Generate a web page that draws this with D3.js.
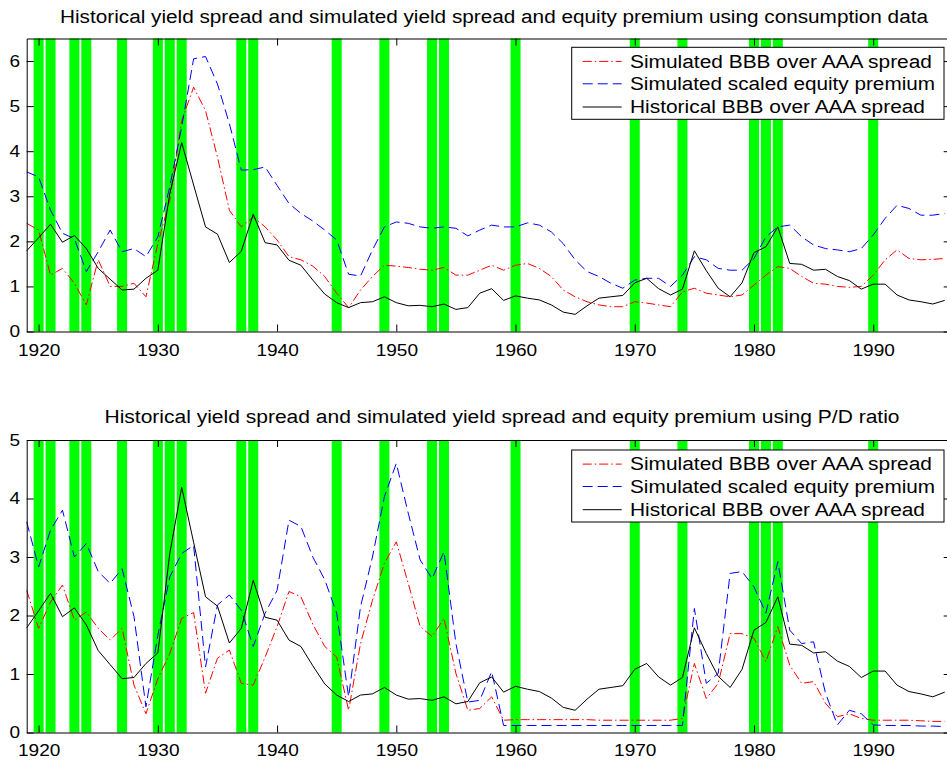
<!DOCTYPE html>
<html lang="en">
<head>
<meta charset="UTF-8">
<title>Yield spread and equity premium</title>
<script src="https://d3js.org/d3.v7.min.js"></script>
<style>
    body { margin: 0; background: #fff; }
    text { font-family: "Liberation Sans", Arial, Helvetica, sans-serif; fill: #000; }
    .axis path, .axis line { stroke: #000; }
</style>
</head>
<body>
<svg id="chart" width="947" height="761"></svg>
<script>
// ---- data ----
var years = d3.range(1919, 1997);

var recessionYears = [1920, 1921, 1923, 1924, 1927, 1930, 1931, 1932, 1937, 1938,
    1945, 1949, 1953, 1954, 1960, 1970, 1974, 1980, 1981, 1982, 1990];

var historicalSpread = [1.79, 2.08, 2.38, 1.98, 2.13, 1.84, 1.40, 1.16, 0.92, 0.94,
    1.18, 1.36, 3.06, 4.19, 3.25, 2.32, 2.16, 1.53, 1.78, 2.60,
    1.97, 1.92, 1.58, 1.47, 1.14, 0.83, 0.64, 0.53, 0.64, 0.66,
    0.77, 0.64, 0.57, 0.58, 0.55, 0.61, 0.49, 0.53, 0.85, 0.95,
    0.69, 0.79, 0.74, 0.70, 0.59, 0.43, 0.38, 0.57, 0.74, 0.77,
    0.80, 1.08, 1.18, 0.95, 0.81, 0.94, 1.79, 1.35, 0.96, 0.77,
    1.08, 1.75, 1.88, 2.32, 1.51, 1.49, 1.36, 1.38, 1.22, 1.13,
    0.94, 1.05, 1.05, 0.81, 0.70, 0.66, 0.61, 0.69];

var consSpread = [2.40, 2.25, 1.25, 1.40, 1.07, 0.59, 1.59, 1.00, 1.00, 1.07,
    0.77, 1.95, 2.91, 4.68, 5.42, 4.90, 3.87, 2.69, 2.32, 2.54,
    2.32, 2.03, 1.66, 1.59, 1.45, 1.22, 0.85, 0.53, 0.92, 1.22,
    1.47, 1.45, 1.42, 1.38, 1.36, 1.42, 1.25, 1.25, 1.36, 1.47,
    1.36, 1.47, 1.51, 1.40, 1.22, 0.92, 0.77, 0.66, 0.59, 0.55,
    0.55, 0.66, 0.63, 0.59, 0.55, 0.88, 0.96, 0.85, 0.81, 0.77,
    0.81, 1.03, 1.25, 1.44, 1.40, 1.22, 1.07, 1.05, 1.00, 0.98,
    1.00, 1.25, 1.59, 1.81, 1.62, 1.59, 1.60, 1.62];

var consEquity = [3.54, 3.43, 2.69, 2.18, 2.06, 1.33, 1.77, 2.25, 1.77, 1.84,
    1.66, 2.10, 3.21, 4.54, 6.05, 6.10, 5.49, 4.61, 3.58, 3.59,
    3.65, 3.24, 2.84, 2.62, 2.45, 2.25, 2.03, 1.27, 1.23, 1.81,
    2.32, 2.43, 2.40, 2.32, 2.29, 2.32, 2.29, 2.12, 2.25, 2.36,
    2.32, 2.32, 2.41, 2.36, 2.21, 1.95, 1.59, 1.33, 1.22, 1.07,
    0.96, 1.14, 1.18, 1.18, 1.00, 1.25, 1.66, 1.59, 1.40, 1.36,
    1.36, 1.62, 2.10, 2.32, 2.36, 2.10, 1.92, 1.84, 1.81, 1.77,
    1.84, 2.14, 2.51, 2.80, 2.73, 2.58, 2.58, 2.62];

var pdSpread = [2.43, 1.78, 2.23, 2.52, 1.92, 2.06, 1.78, 1.58, 1.78, 0.81,
    0.32, 0.92, 1.35, 1.95, 2.05, 0.67, 1.27, 1.41, 0.84, 0.81,
    1.29, 1.81, 2.41, 2.32, 1.85, 1.47, 1.29, 0.38, 1.52, 2.26,
    2.89, 3.26, 2.55, 1.81, 1.64, 1.95, 1.01, 0.38, 0.41, 0.61,
    0.21, 0.22, 0.22, 0.22, 0.22, 0.22, 0.22, 0.22, 0.21, 0.21,
    0.21, 0.21, 0.21, 0.21, 0.21, 0.24, 1.18, 0.58, 0.84, 1.69,
    1.69, 1.61, 1.21, 1.81, 1.15, 0.84, 0.87, 0.50, 0.27, 0.32,
    0.24, 0.21, 0.21, 0.21, 0.21, 0.20, 0.19, 0.19];

var pdEquity = [3.60, 2.83, 3.46, 3.80, 3.00, 3.23, 2.75, 2.55, 2.80, 1.98,
    0.44, 1.66, 2.66, 3.06, 3.20, 1.12, 2.18, 2.35, 2.09, 1.47,
    2.04, 2.43, 3.63, 3.52, 3.00, 2.61, 2.04, 0.61, 2.15, 3.00,
    4.03, 4.60, 3.75, 2.95, 2.63, 3.09, 1.52, 0.52, 0.55, 1.04,
    0.12, 0.12, 0.12, 0.12, 0.12, 0.12, 0.12, 0.12, 0.12, 0.12,
    0.12, 0.12, 0.12, 0.12, 0.12, 0.12, 2.12, 0.84, 1.01, 2.72,
    2.75, 2.49, 2.04, 2.92, 1.75, 1.52, 1.55, 0.67, 0.13, 0.38,
    0.32, 0.13, 0.12, 0.12, 0.12, 0.11, 0.11, 0.10];

var xTickValues = [1920, 1930, 1940, 1950, 1960, 1970, 1980, 1990];
var yTicksTop = [0, 1, 2, 3, 4, 5, 6];
var yTicksBottom = [0, 1, 2, 3, 4, 5];

var titles = [
    "Historical yield spread and simulated yield spread and equity premium using consumption data",
    "Historical yield spread and simulated yield spread and equity premium using P/D ratio"
];
var legendLabels = ["Simulated BBB over AAA spread", "Simulated scaled equity premium", "Historical BBB over AAA spread"];

// ---- drawing ----
var svg = d3.select("#chart");
var stretch = 1.12;   // text in the reference is a bit wider than its height suggests

function widen(sel) {
    sel.each(function () {
        var w = this.getComputedTextLength();
        d3.select(this).attr("textLength", w * stretch).attr("lengthAdjust", "spacingAndGlyphs");
    });
}

var x = d3.scaleLinear().domain([1919, 1996.5]).range([26.7, 950.7]);

function drawPanel(p) {
    var y = d3.scaleLinear().domain([0, p.yMax]).range([p.bottom, p.top]);
    var g = svg.append("g");

    // recession bars
    g.selectAll("rect.rec")
        .data(recessionYears)
        .enter().append("rect")
        .attr("class", "rec")
        .attr("x", function (d) { return x(d - 0.42); })
        .attr("width", x(0.84) - x(0))
        .attr("y", p.top)
        .attr("height", p.bottom - p.top)
        .attr("fill", "#00ff00");

    var line = d3.line()
        .x(function (d, i) { return x(years[i]); })
        .y(function (d) { return y(d); });

    var series = [
        {v: p.spread, color: "#ff0000", dash: "9,3,1.5,3"},
        {v: p.equity, color: "#0000ff", dash: "10,5"},
        {v: historicalSpread, color: "#000000", dash: null}
    ];

    series.forEach(function (s) {
        g.append("path")
            .datum(s.v)
            .attr("fill", "none")
            .attr("stroke", s.color)
            .attr("stroke-width", 1)
            .attr("stroke-dasharray", s.dash)
            .attr("d", line);
    });

    // axes, ticks pointing inward on all four sides
    var bottomAxis = g.append("g").attr("class", "axis")
        .attr("transform", "translate(0," + p.bottom + ")")
        .call(d3.axisBottom(x).tickValues(xTickValues).tickFormat(d3.format("d"))
            .tickSizeInner(-7).tickSizeOuter(0).tickPadding(p.xPad));
    g.append("g").attr("class", "axis")
        .attr("transform", "translate(0," + p.top + ")")
        .call(d3.axisTop(x).tickValues(xTickValues).tickFormat("")
            .tickSizeInner(-7).tickSizeOuter(0));
    var leftAxis = g.append("g").attr("class", "axis")
        .attr("transform", "translate(" + x.range()[0] + ",0)")
        .call(d3.axisLeft(y).tickValues(p.yTicks).tickFormat(d3.format("d"))
            .tickSizeInner(-7).tickSizeOuter(0).tickPadding(6.7));
    g.append("g").attr("class", "axis")
        .attr("transform", "translate(" + x.range()[1] + ",0)")
        .call(d3.axisRight(y).tickValues(p.yTicks).tickFormat("")
            .tickSizeInner(-7).tickSizeOuter(0));

    g.selectAll(".axis text")
        .attr("font-family", "Liberation Sans, Arial, sans-serif")
        .attr("font-size", 17)
        .attr("fill", "#000");
    widen(bottomAxis.selectAll("text"));
    widen(leftAxis.selectAll("text"));

    // title
    svg.append("text")
        .attr("x", p.titleX)
        .attr("y", p.titleY)
        .attr("text-anchor", "middle")
        .attr("font-size", 18)
        .attr("textLength", p.titleLen)
        .attr("lengthAdjust", "spacingAndGlyphs")
        .text(p.title);

    // legend
    var lg = svg.append("g").attr("transform", "translate(571.7," + p.legendTop + ")");
    lg.append("rect")
        .attr("width", 372.3)
        .attr("height", 72)
        .attr("fill", "#fff")
        .attr("stroke", "#000")
        .attr("stroke-width", 1);
    var rowBase = [20.4, 42.8, 66];
    var textLens = [302, 305, 295];
    series.forEach(function (s, i) {
        lg.append("line")
            .attr("x1", 11).attr("x2", 50)
            .attr("y1", rowBase[i] - 6.3).attr("y2", rowBase[i] - 6.3)
            .attr("stroke", s.color)
            .attr("stroke-width", 1)
            .attr("stroke-dasharray", s.dash);
        lg.append("text")
            .attr("x", 58.3)
            .attr("y", rowBase[i])
            .attr("font-size", 18)
            .attr("textLength", textLens[i])
            .attr("lengthAdjust", "spacingAndGlyphs")
            .text(legendLabels[i]);
    });
}

drawPanel({
    top: 38.5, bottom: 331.5, yMax: 6.5, yTicks: yTicksTop,
    spread: consSpread, equity: consEquity, xPad: 12,
    title: titles[0], titleX: 494, titleY: 23, titleLen: 868,
    legendTop: 47.3
});

drawPanel({
    top: 440, bottom: 732.5, yMax: 5, yTicks: yTicksBottom,
    spread: pdSpread, equity: pdEquity, xPad: 11.5,
    title: titles[1], titleX: 502, titleY: 423, titleLen: 795,
    legendTop: 450
});
</script>
</body>
</html>
